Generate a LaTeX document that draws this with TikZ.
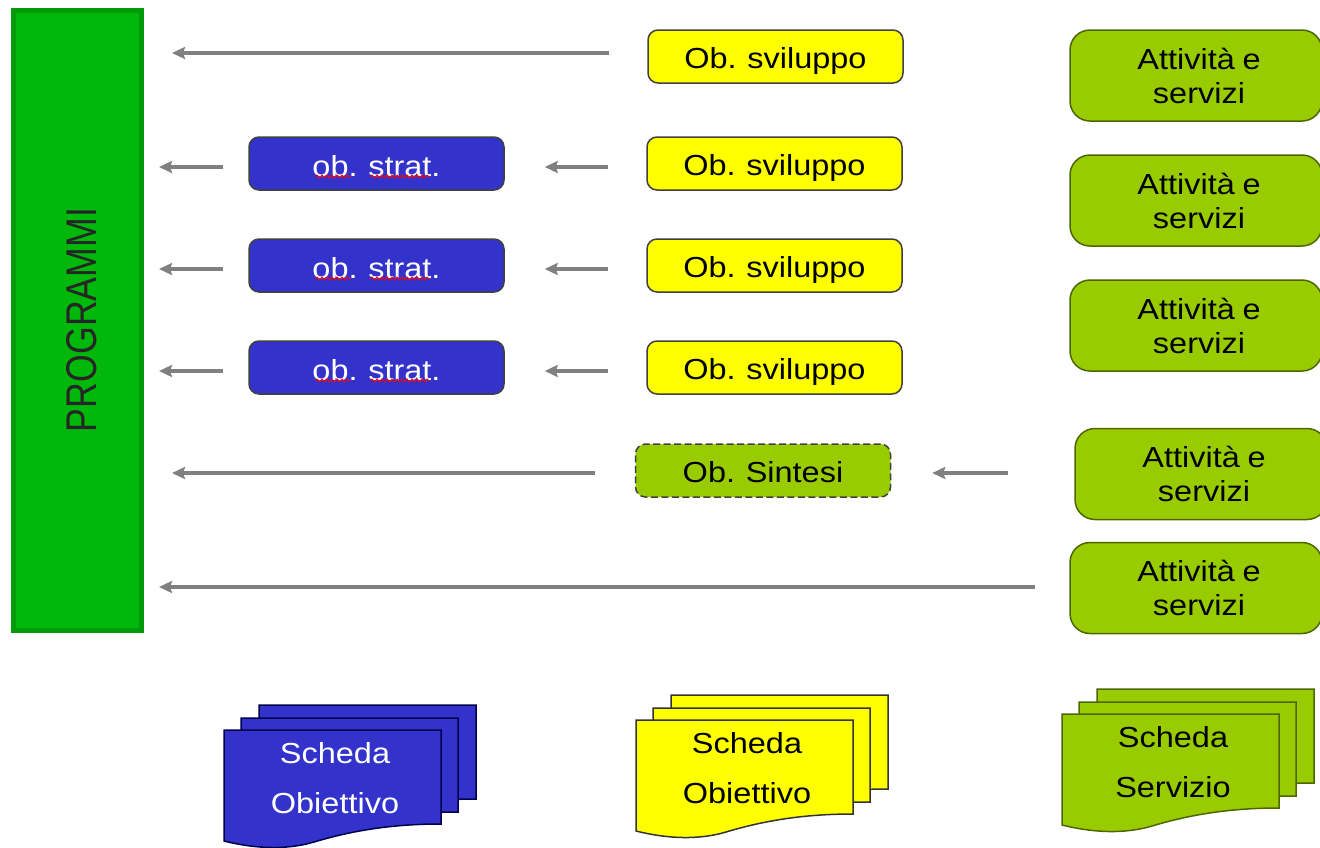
\documentclass[tikz,border=0pt]{standalone}
\usepackage{fontspec}
\setmainfont[FakeStretch=1.12,WordSpace=0.85]{Liberation Sans}
\newfontfamily\progfont[FakeStretch=0.83]{Liberation Sans}
\usetikzlibrary{arrows.meta,decorations.pathmorphing}
\definecolor{progfill}{HTML}{00B80A}
\definecolor{progline}{HTML}{009A0A}
\definecolor{stratblue}{HTML}{3333CC}
\definecolor{obyellow}{HTML}{FFFF00}
\definecolor{sintgreen}{HTML}{99CC00}
\definecolor{oliveline}{HTML}{4D6600}
\tikzset{
 boxbase/.style={draw=black!75,line width=1.5pt,inner sep=0pt,align=center,
                 font=\fontsize{29}{34}\selectfont},
 yellowbox/.style={boxbase,fill=obyellow,rounded corners=10pt,text height=23pt,text depth=0pt,
                   minimum width=255pt,minimum height=53pt},
 bluebox/.style={boxbase,fill=stratblue,text=white,rounded corners=10pt,text height=25pt,text depth=0pt,
                 minimum width=255pt,minimum height=53pt},
 sintbox/.style={yellowbox,fill=sintgreen,dash pattern=on 7pt off 3.5pt},
 greenbox/.style={boxbase,draw=oliveline,fill=sintgreen,rounded corners=20pt,
                  minimum width=252pt,minimum height=91pt},
 flow/.style={draw=black!50,line width=3.5pt,-{Stealth[length=13pt,width=12pt,inset=2pt]}},
 spell/.style={draw=red,line width=1pt,decorate,
               decoration={snake,amplitude=1.4pt,segment length=5pt}},
 sheettext/.style={align=center,font=\fontsize{29}{50}\selectfont},
}
\newcommand{\attivita}{\hspace*{6pt}Attività e\\\hspace*{6pt}servizi}
% three stacked sheets: name, x, y, colours, text
\newcommand{\scheda}[5]{
 \foreach \dx/\dy in {35/-25,17/-12,0/0}
   \filldraw[#4,line width=1.5pt,shift={(#2+\dx,#3+\dy)}]
     (0,0) -- (217,0) -- (217,94) .. controls (170,94) and (130,100) .. (90,112)
     .. controls (70,118) and (40,121) .. (0,111) -- cycle;
 \node[sheettext] (#1) at (#2+111,#3+48) {#5};
}

\begin{document}
\begin{tikzpicture}[x=1pt,y=-1pt]
 \useasboundingbox (0,0) rectangle (1320,847);

 \node[draw=progline,fill=progfill,line width=5pt,minimum width=128pt,minimum height=620pt,
       inner sep=0pt] (prog) at (77.5,320.5) {};
 \node[rotate=90,font=\progfont\fontsize{43}{43}\selectfont,text=black!85] (progtext) at (82,320) {PROGRAMMI};

 % obiettivi
 \node[yellowbox] (sv1) at (775.5,56.5) {Ob. sviluppo};
 \foreach \i/\y in {2/163.5,3/265.5,4/367.5}{
   \node[yellowbox] (sv\i) at (774.5,\y) {Ob. sviluppo};
   \node[bluebox] (os\i) at (376.5,\y) {ob. strat.};
   \draw[spell] ([shift={(-61pt,-13pt)}]os\i.center) -- ([shift={(-26pt,-13pt)}]os\i.center);
   \draw[spell] ([shift={(-6pt,-13pt)}]os\i.center) -- ([shift={(53pt,-13pt)}]os\i.center);
 }
 \node[sintbox] (os5) at (763,470.5) {Ob. Sintesi};

 % attivita
 \foreach \i/\y in {1/75.5,2/200.5,3/325.5,6/588}
   \node[greenbox] (att\i) at (1196,\y) {\attivita};
 \node[greenbox] (att5) at (1201,474) {\attivita};

 % frecce
 \draw[flow,shorten <=38pt,shorten >=28pt] ([yshift=3.5pt]sv1.west) -- ([yshift=3.5pt]prog.east |- sv1.west);
 \foreach \i in {2,3,4}{
   \draw[flow,shorten <=38pt,shorten >=40pt] ([yshift=-3.5pt]sv\i.west) -- ([yshift=-3.5pt]os\i.east);
   \draw[flow,shorten <=25pt,shorten >=15pt] ([yshift=-3.5pt]os\i.west) -- ([yshift=-3.5pt]prog.east |- os\i.west);
 }
 \draw[flow,shorten <=40pt,shorten >=28pt] ([yshift=-2.5pt]os5.west) -- ([yshift=-2.5pt]prog.east |- os5.west);
 \draw[flow,shorten <=66pt,shorten >=41pt] ([yshift=-2.5pt]att5.west |- os5.east) -- ([yshift=-2.5pt]os5.east);
 \draw[flow,shorten <=34pt,shorten >=15pt] ([yshift=1pt]att6.west) -- ([yshift=1pt]prog.east |- att6.west);

 % schede
 \scheda{sch1}{224}{730}{draw=black!70!blue,fill=stratblue}{\textcolor{white}{Scheda}\\\textcolor{white}{Obiettivo}}
 \scheda{sch2}{636}{720}{draw=black!80,fill=obyellow}{Scheda\\Obiettivo}
 \scheda{sch3}{1062}{714}{draw=oliveline,fill=sintgreen}{Scheda\\Servizio}
\end{tikzpicture}
\end{document}
